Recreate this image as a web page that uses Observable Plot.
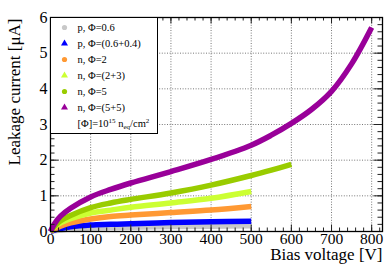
<!DOCTYPE html>
<html><head><meta charset="utf-8">
<script src="https://cdn.jsdelivr.net/npm/d3@7"></script>
<script src="https://cdn.jsdelivr.net/npm/@observablehq/plot@0.6"></script>
<style>
body{margin:0;background:#fff;}
#wrap{position:relative;width:390px;height:265px;}
#legend{position:absolute;left:50px;top:17px;}
svg{overflow:visible;}
svg text{font-family:'Liberation Serif','Times New Roman',serif !important;}
</style></head><body><div id="wrap"><div id="main"></div><div id="legend"></div></div>
<script>
// ---- data ----
const seriesNames = ["p, Φ=0.6", "p, Φ=(0.6+0.4)", "n, Φ=2", "n, Φ=(2+3)", "n, Φ=5", "n, Φ=(5+5)"];
const seriesColors = ["#c8c8c8", "#0000ff", "#ff9933", "#ccff33", "#99cc00", "#990099"];
const seriesSymbols = ["circle", "triangle", "circle", "triangle", "circle", "triangle"];
const fluenceNote = "[Φ]=10^15 n_eq/cm^2";

const voltage500 = [0, 10, 25, 50, 100, 150, 200, 300, 400, 500];
const voltage600 = [0, 10, 25, 50, 100, 150, 200, 300, 400, 500, 550, 600];
const voltage800 = [0, 10, 25, 50, 100, 150, 200, 300, 400, 500, 550, 600, 650, 700, 750, 800];

const currentP06   = [0, 0.02, 0.04, 0.07, 0.10, 0.11, 0.12, 0.14, 0.15, 0.16];
const currentP0604 = [0, 0.04, 0.08, 0.13, 0.18, 0.20, 0.22, 0.25, 0.27, 0.29];
const currentN2    = [0, 0.07, 0.15, 0.24, 0.35, 0.42, 0.46, 0.53, 0.60, 0.70];
const currentN23   = [0, 0.12, 0.24, 0.36, 0.52, 0.60, 0.68, 0.80, 0.93, 1.12];
const currentN5    = [0, 0.15, 0.30, 0.45, 0.67, 0.80, 0.90, 1.08, 1.30, 1.57, 1.72, 1.88];
const currentN55   = [0, 0.22, 0.43, 0.65, 0.97, 1.18, 1.36, 1.68, 2.02, 2.42, 2.70, 3.03, 3.42, 3.93, 4.70, 5.72];

const xTickLabels = [0, 100, 200, 300, 400, 500, 600, 700, 800];
const yTickLabels = [0, 1, 2, 3, 4, 5, 6];
const xMinorTicks = d3.range(0, 828, 20);
const yMinorTicks = d3.range(0, 6.01, 0.2);

const xTitle = "Bias voltage [V]";
const yTitle = "Leakage current [μA]";

// ---- table ----
const seriesVoltages = [voltage500, voltage500, voltage500, voltage500, voltage600, voltage800];
const seriesCurrents = [currentP06, currentP0604, currentN2, currentN23, currentN5, currentN55];
const rows = seriesNames.flatMap((name, i) =>
  seriesVoltages[i].map((v, j) => ({series: name, voltage: v, current: seriesCurrents[i][j]})));

const W = 390, H = 265, mL = 50, mR = 8, mT = 17, mB = 34;
const fw = W - mL - mR, fh = H - mT - mB;
const font = "'Liberation Serif', 'Times New Roman', serif";

const main = Plot.plot({
  width: W, height: H,
  marginLeft: mL, marginRight: mR, marginTop: mT, marginBottom: mB,
  style: {fontFamily: font, background: "white", color: "black"},
  x: {domain: [0, 827]},
  y: {domain: [0, 6]},
  color: {domain: seriesNames, range: seriesColors},
  marks: [
    Plot.gridX(xTickLabels.filter(d => d > 0), {stroke: "#777", strokeOpacity: 1, strokeDasharray: "1,1.6"}),
    Plot.gridY(yTickLabels.filter(d => d > 0 && d < 6), {stroke: "#777", strokeOpacity: 1, strokeDasharray: "1,1.6"}),
    Plot.line(rows, {x: "voltage", y: "current", z: "series", stroke: "series", strokeWidth: 5.5, curve: "catmull-rom", strokeLinecap: "butt"}),
    // inward ticks
    Plot.tickX(xMinorTicks, {x: d => d, insetTop: fh - 3.5, stroke: "#222"}),
    Plot.tickX(xMinorTicks, {x: d => d, insetBottom: fh - 3.5, stroke: "#222"}),
    Plot.tickX(xTickLabels, {x: d => d, insetTop: fh - 6.5, stroke: "#222"}),
    Plot.tickX(xTickLabels, {x: d => d, insetBottom: fh - 6.5, stroke: "#222"}),
    Plot.tickY(yMinorTicks, {y: d => d, insetRight: fw - 4.5, stroke: "#222"}),
    Plot.tickY(yMinorTicks, {y: d => d, insetLeft: fw - 4.5, stroke: "#222"}),
    Plot.tickY(yTickLabels, {y: d => d, insetRight: fw - 8.5, stroke: "#222"}),
    Plot.tickY(yTickLabels, {y: d => d, insetLeft: fw - 8.5, stroke: "#222"}),
    Plot.frame({stroke: "black", strokeWidth: 1.3}),
    Plot.axisX(xTickLabels, {tickSize: 0, tickPadding: 1, fontSize: 15.5, label: null, fontFamily: font}),
    Plot.axisY(yTickLabels, {tickSize: 0, tickPadding: 3, fontSize: 16, label: null, fontFamily: font}),
    Plot.text([xTitle], {frameAnchor: "bottom-right", textAnchor: "end", lineAnchor: "bottom", dy: 28, fontSize: 17, fontFamily: font}),
    Plot.text([yTitle], {frameAnchor: "top-left", rotate: -90, textAnchor: "end", lineAnchor: "middle", dx: -35.5, dy: 1, fontSize: 17, fontFamily: font})
  ]
});
document.getElementById("main").append(main);

// ---- legend ----
const legendLabels = [...seriesNames, fluenceNote];
const legendRows = seriesNames.map((name, i) => ({label: name, color: seriesColors[i], symbol: seriesSymbols[i]}));
const legend = Plot.plot({
  width: 107, height: 116,
  margin: 0,
  style: {fontFamily: font, background: "transparent", color: "black"},
  x: {domain: [0, 1], axis: null},
  y: {type: "band", domain: legendLabels, axis: null, padding: 0},
  symbol: {domain: ["circle", "triangle"], range: ["circle", "triangle"]},
  marks: [
    Plot.frame({fill: "white", stroke: "black", strokeWidth: 1}),
    Plot.dot(legendRows, {y: "label", frameAnchor: "left", dx: 14, fill: "color", symbol: "symbol", r: 2.6, stroke: null}),
    Plot.text(legendLabels, {y: d => d, text: d => d, frameAnchor: "left", dx: 27, textAnchor: "start", fontSize: 10.5, fontFamily: font})
  ]
});
document.getElementById("legend").append(legend);

// rich formatting for the unit note
d3.select(legend).selectAll("text").each(function() {
  if (this.textContent === fluenceNote) {
    const t = d3.select(this);
    t.text(null);
    t.append("tspan").text("[Φ]=10");
    t.append("tspan").attr("font-size", 7).attr("dy", -4).text("15");
    t.append("tspan").attr("dy", 4).text(" n");
    t.append("tspan").attr("font-size", 7).attr("dy", 2.5).text("eq");
    t.append("tspan").attr("dy", -2.5).text("/cm");
    t.append("tspan").attr("font-size", 7).attr("dy", -4).text("2");
  }
});
</script></body></html>
